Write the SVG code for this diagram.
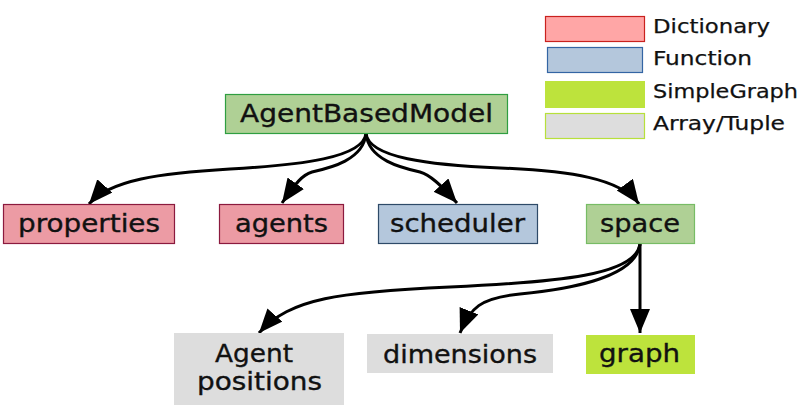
<svg xmlns="http://www.w3.org/2000/svg" width="812" height="419" viewBox="0 0 812 419">
<style>
text{font-family:"DejaVu Sans","Liberation Sans",sans-serif;fill:#111;stroke:#111;stroke-width:0.35;}
.n{font-size:24px;}
.l{font-size:20px;stroke-width:0.25;}
.edge{fill:none;stroke:#000;stroke-width:3;}
.dict{fill:#ec9ba4;stroke:#8b1a3e;stroke-width:1.2;}
.func{fill:#b4c7dc;stroke:#2e4a68;stroke-width:1.2;}
.abm{fill:#afd095;stroke:#2f9e41;stroke-width:1.2;}
.spc{fill:#afd095;stroke:#77bc65;stroke-width:1.2;}
.sg{fill:#bde33c;}
.arr{fill:#dddddd;}
</style>
<defs>
<marker id="ah" markerUnits="userSpaceOnUse" markerWidth="26" markerHeight="22" refX="24" refY="10" orient="auto" viewBox="0 0 26 22">
<path d="M0,0 L24,10 L0,20 z" fill="#000"/>
</marker>
</defs>
<g id="legend">
<rect x="545.5" y="16.5" width="99" height="25" fill="#ffa6a6" stroke="#c9211e" stroke-width="1.2"/>
<text class="l" x="653" y="33" textLength="117" lengthAdjust="spacingAndGlyphs">Dictionary</text>
<rect x="547.5" y="47.5" width="95" height="25" fill="#b4c7dc" stroke="#3465a4" stroke-width="1.2"/>
<text class="l" x="653" y="65" textLength="99" lengthAdjust="spacingAndGlyphs">Function</text>
<rect x="545" y="81" width="100" height="27" fill="#bde33c"/>
<text class="l" x="653" y="98" textLength="145" lengthAdjust="spacingAndGlyphs">SimpleGraph</text>
<rect x="545.5" y="113.5" width="99" height="25" fill="#dddddd" stroke="#b7e03b" stroke-width="1.2"/>
<text class="l" x="653" y="130" textLength="132" lengthAdjust="spacingAndGlyphs">Array/Tuple</text>
</g>
<g id="connectors">
<path class="edge" marker-end="url(#ah)" d="M366,133 C364,158 300,165 230,169 C160,173 110,180 89,204"/>
<path class="edge" marker-end="url(#ah)" d="M366,133 C364,160 330,168 312,172 C302,175 296,183 282,203"/>
<path class="edge" marker-end="url(#ah)" d="M366,133 C368,160 402,168 420,172 C430,175 440,184 457,203"/>
<path class="edge" marker-end="url(#ah)" d="M366,133 C368,158 430,165 500,168 C570,171 620,178 639,204"/>
<path class="edge" marker-end="url(#ah)" d="M640,244 C636,275 560,282 450,287 C340,292 290,298 259,333"/>
<path class="edge" marker-end="url(#ah)" d="M640,244 C636,280 560,290 520,294 C480,298 470,308 460,333"/>
<path class="edge" marker-end="url(#ah)" d="M640,244 L640,333"/>
</g>
<g id="AgentBasedModel">
<rect class="abm" x="225.5" y="94.5" width="282" height="39"/>
<text class="n" x="240" y="122" textLength="253" lengthAdjust="spacingAndGlyphs">AgentBasedModel</text>
</g>
<g id="properties">
<rect class="dict" x="3.5" y="204.5" width="171" height="39"/>
<text class="n" x="18" y="232" textLength="142" lengthAdjust="spacingAndGlyphs">properties</text>
</g>
<g id="agents">
<rect class="dict" x="219.5" y="204.5" width="124" height="39"/>
<text class="n" x="235" y="232" textLength="93" lengthAdjust="spacingAndGlyphs">agents</text>
</g>
<g id="scheduler">
<rect class="func" x="378.5" y="204.5" width="159" height="39"/>
<text class="n" x="390" y="232" textLength="135" lengthAdjust="spacingAndGlyphs">scheduler</text>
</g>
<g id="space">
<rect class="spc" x="586.5" y="204.5" width="108" height="39"/>
<text class="n" x="600" y="232" textLength="80" lengthAdjust="spacingAndGlyphs">space</text>
</g>
<g id="agent_positions">
<rect class="arr" x="174" y="333" width="170" height="72"/>
<text class="n" x="215" y="362" textLength="78" lengthAdjust="spacingAndGlyphs">Agent</text>
<text class="n" x="197" y="390" textLength="125" lengthAdjust="spacingAndGlyphs">positions</text>
</g>
<g id="dimensions">
<rect class="arr" x="367" y="334" width="186" height="39"/>
<text class="n" x="383" y="363" textLength="154" lengthAdjust="spacingAndGlyphs">dimensions</text>
</g>
<g id="graph">
<rect class="sg" x="586" y="335" width="109" height="39"/>
<text class="n" x="599" y="362" textLength="81" lengthAdjust="spacingAndGlyphs">graph</text>
</g>
</svg>
